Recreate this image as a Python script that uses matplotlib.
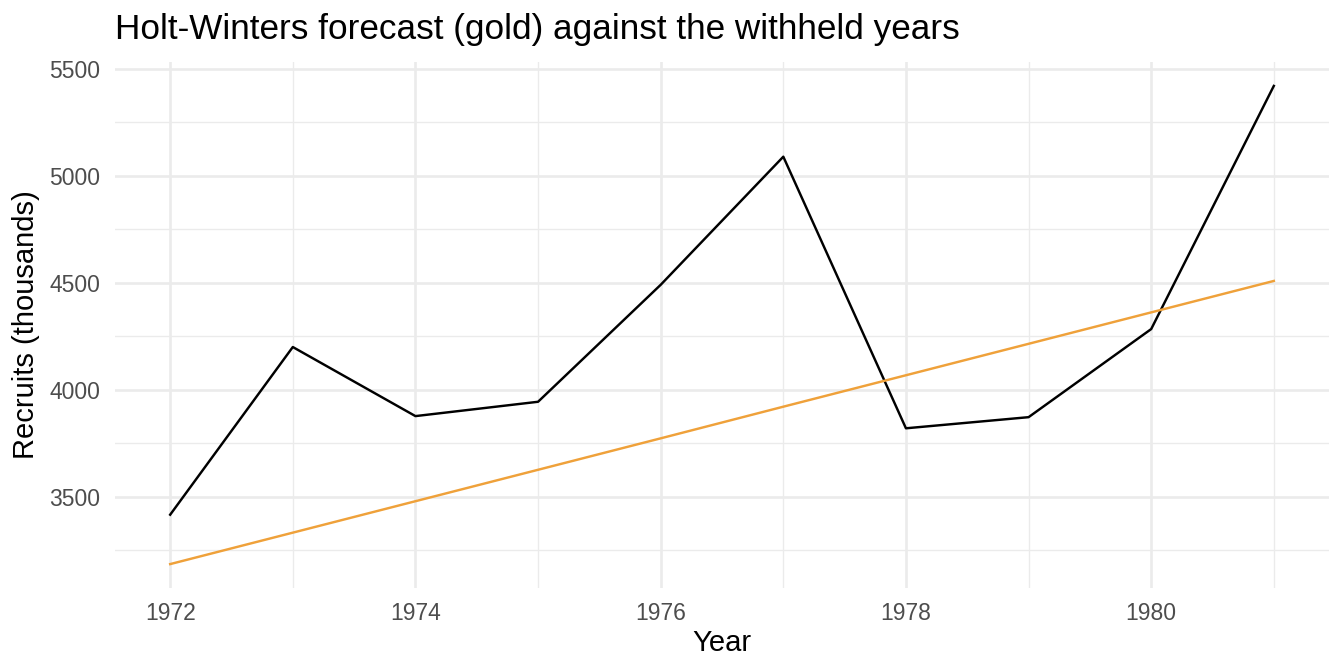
import matplotlib
matplotlib.use("Agg")
import matplotlib.pyplot as plt
from matplotlib.ticker import MultipleLocator

years = [1972, 1973, 1974, 1975, 1976, 1977, 1978, 1979, 1980, 1981]
observed = [3415, 4199, 3876, 3943, 4490, 5089, 3819, 3871, 4283, 5420]
forecast = [3184, 3331, 3478, 3625, 3772, 3920, 4067, 4214, 4361, 4508]
x_ticks = [1972, 1974, 1976, 1978, 1980]
y_ticks = [3500, 4000, 4500, 5000, 5500]

title = "Holt-Winters forecast (gold) against the withheld years"
xlabel = "Year"
ylabel = "Recruits (thousands)"

plt.rcParams['font.family'] = ['Liberation Sans', 'DejaVu Sans']

fig = plt.figure(figsize=(13.44, 6.72), dpi=100)
ax = fig.add_axes([115/1344, 1 - 588/672, (1329 - 115)/1344, (588 - 62)/672])

ax.plot(years, observed, color='black', lw=1.75, zorder=3)
ax.plot(years, forecast, color='#EFA13A', lw=1.75, zorder=3)

xr = max(years) - min(years)
ax.set_xlim(min(years) - 0.05 * xr, max(years) + 0.05 * xr)
lo = min(min(observed), min(forecast))
hi = max(max(observed), max(forecast))
yr = hi - lo
ax.set_ylim(lo - 0.05 * yr, hi + 0.05 * yr)

ax.set_xticks(x_ticks)
ax.set_yticks(y_ticks)
ax.xaxis.set_minor_locator(MultipleLocator(1))
ax.yaxis.set_minor_locator(MultipleLocator(250))

ax.grid(which='major', color='#EBEBEB', lw=1.9)
ax.grid(which='minor', color='#EBEBEB', lw=0.95)
ax.set_axisbelow(True)
for s in ax.spines.values():
    s.set_visible(False)
ax.tick_params(which='both', length=0)
ax.tick_params(axis='both', labelsize=16.5, labelcolor='#4D4D4D')
ax.tick_params(axis='y', pad=10.5)
ax.tick_params(axis='x', pad=10)

ax.set_xlabel(xlabel, fontsize=21, color='black', labelpad=3)
ax.set_ylabel(ylabel, fontsize=21, color='black', labelpad=7)

fig.text(115/1344, 1 - 39.5/672, title, fontsize=25.3, color='black', ha='left', va='baseline')

fig.savefig("out.png", dpi=100, facecolor='white')
